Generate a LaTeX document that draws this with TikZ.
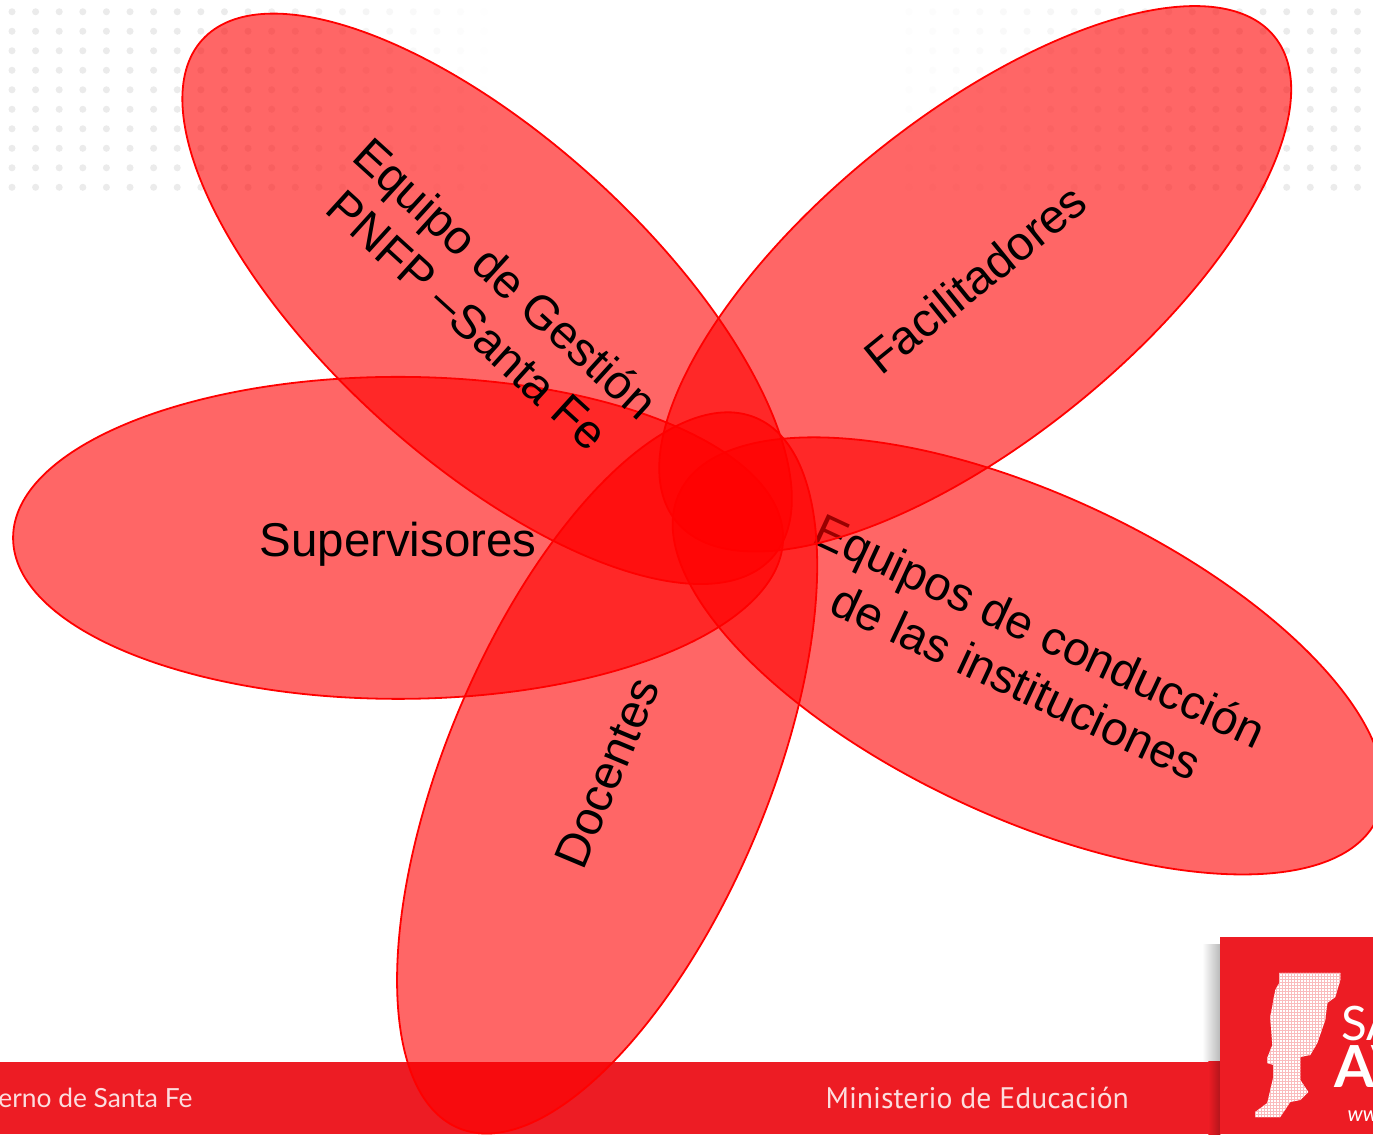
\documentclass[tikz,border=0pt]{standalone}
\usepackage{fontspec}
\setmainfont{Liberation Sans}
\newfontfamily\bandfont{Lato}
\newfontfamily\ministryfont{PT Sans}
\usetikzlibrary{shapes.geometric}
\definecolor{bandred}{HTML}{ED1C24}
\tikzstyle{petal}=[draw=red, line width=.036cm, fill=red, fill opacity=.6, text opacity=1, text=black, ellipse, inner sep=0pt, outer sep=0pt, minimum width=15.4cm, minimum height=6.44cm, align=center, font=\fontsize{27}{32}\selectfont]
\tikzstyle{bandtext}=[text=white!85!bandred, inner sep=0pt, anchor=west]
\tikzstyle{logotext}=[text=white, inner sep=0pt, anchor=west]
% pixel of the reference to picture coordinates
\newcommand{\px}[2]{({(#1)*.02},{(1134-(#2))*.02})}
\begin{document}
\begin{tikzpicture}
	\useasboundingbox (0,0) rectangle (27.46,22.68);
	\fill[white] (0,0) rectangle (27.46,22.68);
%
	\foreach \i in {0,...,57} {
		\pgfmathsetmacro{\dotx}{12+23.6*\i}
		\pgfmathsetmacro{\dotshade}{max(0,min(8,8-(\dotx-230)*.03),min(8,(\dotx-880)*.02))}
		\foreach \j in {0,...,9} {
			\fill[black!\dotshade] \px{\dotx}{12+19.5*\j} circle (.07);
		}
	}
%
	\fill[bandred] \px{0}{1062} rectangle \px{1373}{1134};
	\node[bandtext, font=\bandfont\fontsize{15}{18}\selectfont] (gobierno) at \px{-2}{1098} {erno de Santa Fe};
	\node[bandtext, font=\ministryfont\fontsize{16.9}{20}\selectfont] (ministerio) at \px{825}{1098} {Ministerio de Educación};
%
	\shade[left color=white, right color=black!28] \px{1202}{945} rectangle \px{1220}{1062};
	\shade[left color=bandred, right color=bandred!75!black] \px{1208}{1062} rectangle \px{1220}{1134};
	\fill[bandred] \px{1220}{937} rectangle \px{1373}{1134};
	\begin{scope}
		\clip \px{1279}{973} -- \px{1340}{973} -- \px{1340}{980} -- \px{1335}{997} -- \px{1327}{1003} -- \px{1325}{1020} -- \px{1317}{1043} -- \px{1310}{1055} -- \px{1300}{1057} -- \px{1300}{1080} -- \px{1308}{1092} -- \px{1300}{1100} -- \px{1290}{1102} -- \px{1280}{1117} -- \px{1255}{1117} -- \px{1255}{1112} -- \px{1267}{1103} -- \px{1273}{1077} -- \px{1273}{1065} -- \px{1267}{1063} -- \px{1267}{1058} -- \px{1272}{1045} -- \px{1270}{1017} -- \px{1275}{990} -- \px{1279}{983} -- cycle;
		\fill[white] \px{1250}{970} rectangle \px{1345}{1120};
		\foreach \k in {0,...,31} {
			\draw[bandred!30, line width=.012cm] \px{1252+3*\k}{970} -- \px{1252+3*\k}{1120};
		}
		\foreach \k in {0,...,50} {
			\draw[bandred!30, line width=.012cm] \px{1250}{970+3*\k} -- \px{1345}{970+3*\k};
		}
	\end{scope}
	\node[logotext, font=\bandfont\fontsize{27}{27}\selectfont] (sa) at \px{1341}{1024} {SA};
	\node[logotext, font=\bandfont\bfseries\fontsize{33}{33}\selectfont] (av) at \px{1334}{1067} {AV};
	\node[logotext, font=\bandfont\itshape\fontsize{12}{12}\selectfont] (web) at \px{1347}{1116} {ww};
%
	\node[petal, text height=.94cm, text depth=.2cm] (supervisores) at \px{398}{538} {Supervisores};
	\node[petal, rotate=-42.3] (gestion) at \px{487}{299} {Equipo de Gestión\\PNFP –Santa Fe};
	\node[petal, rotate=-25] (conduccion) at \px{1028}{656} {Equipos de conducción\\de las instituciones};
	\node[petal, rotate=39] (facilitadores) at \px{975}{279} {Facilitadores};
	\node[petal, rotate=67.3] (docentes) at \px{607}{773} {Docentes};
\end{tikzpicture}
\end{document}
